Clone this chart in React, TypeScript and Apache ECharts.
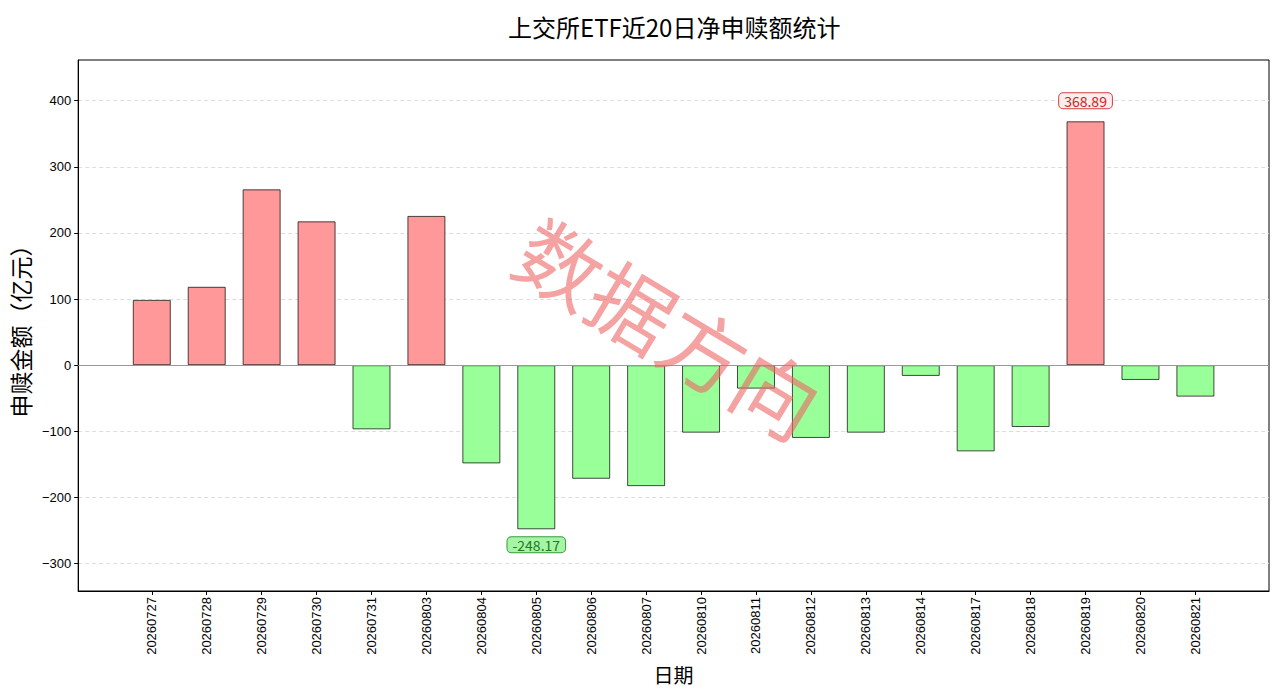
import React, { useEffect, useRef } from "react";
import * as echarts from "echarts";

const dates = [
  "20260727", "20260728", "20260729", "20260730", "20260731",
  "20260803", "20260804", "20260805", "20260806", "20260807",
  "20260810", "20260811", "20260812", "20260813", "20260814",
  "20260817", "20260818", "20260819", "20260820", "20260821",
];
const netFlows = [
  98.8, 118.6, 266.0, 217.6, -97.0,
  225.8, -148.5, -248.17, -171.8, -182.9,
  -102.0, -35.4, -110.0, -102.0, -16.2,
  -130.3, -93.5, 368.89, -22.3, -47.5,
];
const yTicks = [-300, -200, -100, 0, 100, 200, 300, 400];
const titleText = "上交所ETF近20日净申赎额统计";
const yName = "申赎金额（亿元）";
const xName = "日期";
const watermark = "数据方向";

const FONT = "'Liberation Sans', 'Noto Sans CJK SC', sans-serif";
const CJK = "'Noto Sans CJK SC', sans-serif";

export default function App() {
  const ref = useRef<HTMLDivElement>(null);
  useEffect(() => {
    if (!ref.current) return;
    const chart = echarts.init(ref.current, undefined, { renderer: "svg" });
    const maxIdx = netFlows.indexOf(Math.max(...netFlows));
    const minIdx = netFlows.indexOf(Math.min(...netFlows));
    const xTicks = dates.map((_, i) => i);

    const data = netFlows.map((v, i) => {
      const item: any = {
        value: [i, v],
        itemStyle: { color: v >= 0 ? "#ff9999" : "#99ff99" },
      };
      if (i === maxIdx) {
        item.label = {
          show: true,
          position: "top",
          distance: 13,
          formatter: (p: any) => p.value[1].toFixed(2),
          color: "#cc2222",
          fontSize: 14,
          fontFamily: CJK,
          backgroundColor: "#fdeded",
          borderColor: "#d04040",
          borderWidth: 1,
          borderRadius: 4,
          padding: [1, 5, 0, 5],
        };
      } else if (i === minIdx) {
        item.label = {
          show: true,
          position: "bottom",
          distance: 8,
          formatter: (p: any) => p.value[1].toFixed(2),
          color: "#1f7a1f",
          fontSize: 14,
          fontFamily: CJK,
          backgroundColor: "#a6f5a6",
          borderColor: "#3a9a3a",
          borderWidth: 1,
          borderRadius: 4,
          padding: [1, 5, 0, 5],
        };
      }
      return item;
    });

    chart.setOption({
      animation: false,
      backgroundColor: "#ffffff",
      textStyle: { fontFamily: FONT },
      title: {
        text: titleText,
        left: 503,
        top: 9,
        textStyle: { fontFamily: CJK, fontSize: 24, fontWeight: "normal", color: "#000" },
      },
      grid: {
        left: 77,
        right: 11,
        top: 60,
        bottom: 105,
        show: true,
        borderColor: "#000",
        borderWidth: 1,
        backgroundColor: "transparent",
      },
      xAxis: {
        type: "value",
        min: -1.34,
        max: 20.34,
        name: xName,
        nameLocation: "middle",
        nameGap: 73,
        nameTextStyle: { fontFamily: CJK, fontSize: 20, color: "#000" },
        axisLine: { show: true, onZero: false, lineStyle: { color: "#000", width: 1 } },
        axisTick: { show: true, length: 4, customValues: xTicks, lineStyle: { color: "#000" } },
        axisLabel: {
          customValues: xTicks,
          rotate: 90,
          margin: 6,
          fontSize: 13,
          color: "#000",
          formatter: (v: number) => dates[Math.round(v)] ?? "",
        },
        splitLine: { show: false },
      },
      yAxis: {
        type: "value",
        min: -341.5,
        max: 461.6,
        name: yName,
        nameLocation: "middle",
        nameGap: 43,
        nameTextStyle: { fontFamily: CJK, fontSize: 23, color: "#000" },
        axisLine: { show: true, onZero: false, lineStyle: { color: "#000", width: 1 } },
        axisTick: { show: true, length: 4, customValues: yTicks, lineStyle: { color: "#000" } },
        axisLabel: {
          customValues: yTicks,
          margin: 7,
          fontSize: 13,
          color: "#000",
          formatter: (v: number) => (v < 0 ? "\u2212" + Math.abs(v) : String(v)),
        },
        splitLine: {
          show: true,
          lineStyle: { color: "#dddddd", type: [4, 3], width: 1 },
        },
      },
      series: [
        {
          type: "bar",
          barWidth: 38,
          data,
          itemStyle: { borderColor: "rgba(0,0,0,0.7)", borderWidth: 1 },
          markLine: {
            silent: true,
            symbol: "none",
            label: { show: false },
            lineStyle: { color: "#999999", type: "solid", width: 1 },
            data: [{ yAxis: 0 }],
          },
        },
      ],
      graphic: [
        {
          type: "text",
          x: 670,
          y: 326,
          rotation: (-31 * Math.PI) / 180,
          z: 100,
          silent: true,
          style: {
            text: watermark,
            fontFamily: CJK,
            fontSize: 84,
            fill: "rgba(238,100,100,0.6)",
            textAlign: "center",
            textVerticalAlign: "middle",
          },
        },
      ],
    });
    return () => chart.dispose();
  }, []);

  return (
    <div
      ref={ref}
      style={{ position: "absolute", left: 0, top: 0, width: 1280, height: 696 }}
    />
  );
}
